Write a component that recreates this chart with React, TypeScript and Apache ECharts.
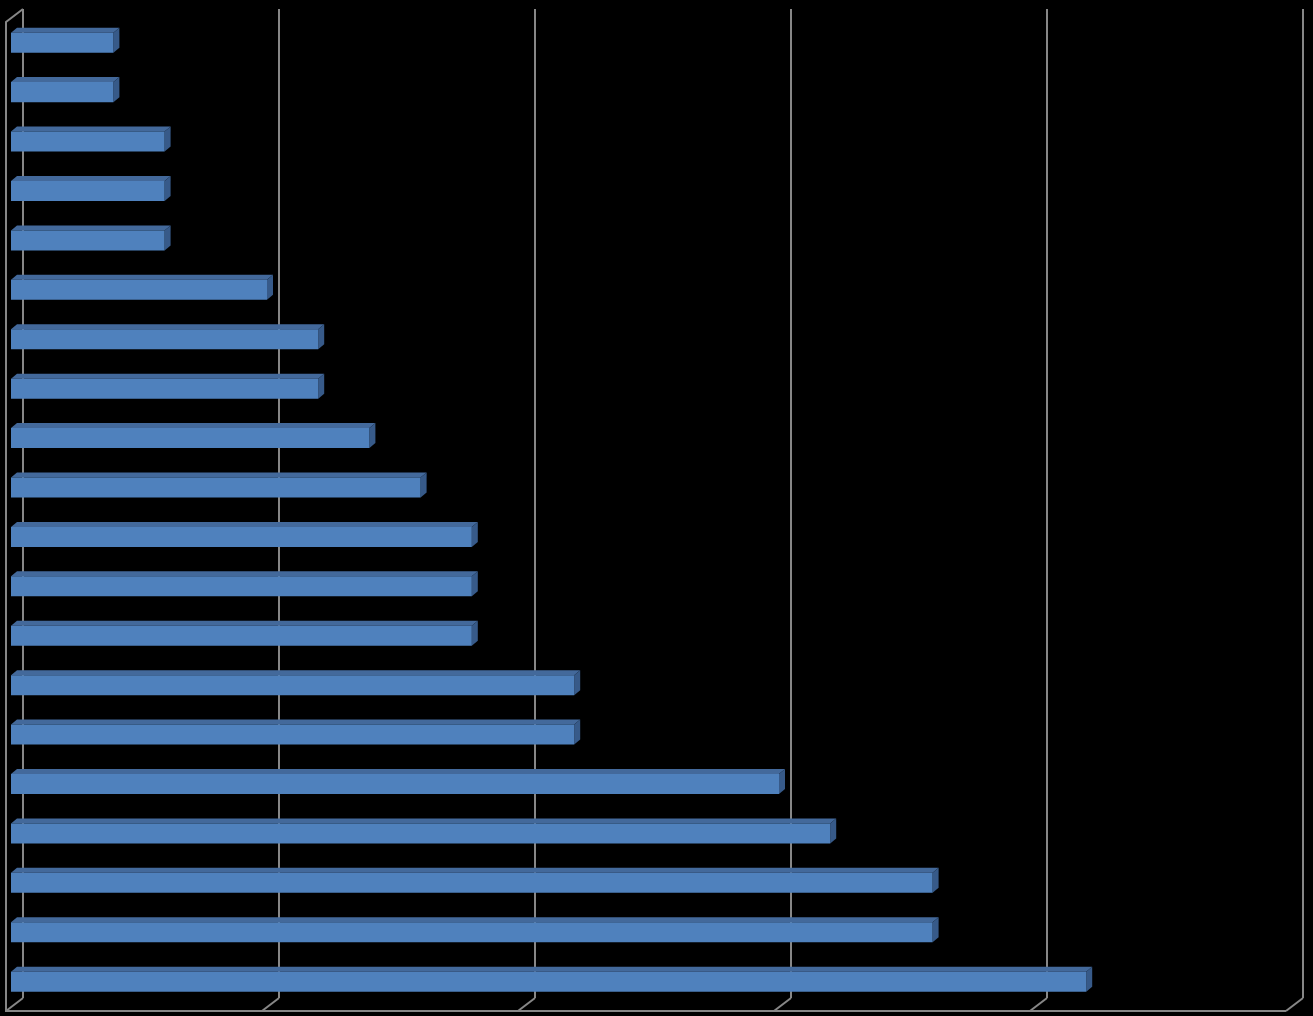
import React, { useEffect, useRef } from "react";
import * as echarts from "echarts";

const categories: string[] = [
  "1", "2", "3", "4", "5", "6", "7", "8", "9", "10",
  "11", "12", "13", "14", "15", "16", "17", "18", "19", "20",
];
const values: number[] = [2, 2, 3, 3, 3, 5, 6, 6, 7, 8, 9, 9, 9, 11, 11, 15, 16, 18, 18, 21];
const axisTicks: number[] = [0, 5, 10, 15, 20, 25];

const FRONT = "#4F81BD";
const TOP = "#43699B";
const SIDE = "#375A89";
const FRAME = "#878787";

export default function App() {
  const ref = useRef<HTMLDivElement>(null);
  useEffect(() => {
    document.body.style.margin = "0";
    document.body.style.background = "#000";
    if (!ref.current) return;
    const chart = echarts.init(ref.current, undefined, { renderer: "svg" });
    const DX = 17, DY = 13; // floor depth offset
    const BDX = 6, BDY = 5; // bar depth offset
    const option: any = {
      animation: false,
      backgroundColor: "#000",
      grid: [
        { left: 11, width: 1280, top: 18, height: 988.4 },
        { left: 23, width: 1280, top: 9, height: 989 },
      ],
      xAxis: [
        { type: "value", gridIndex: 0, min: 0, max: 25, interval: 5, show: false },
        {
          type: "value", gridIndex: 1, min: 0, max: 25, interval: 5,
          axisLine: { show: false }, axisTick: { show: false }, axisLabel: { show: false },
          splitLine: { show: true, lineStyle: { color: FRAME, width: 2 } },
        },
      ],
      yAxis: [
        { type: "category", gridIndex: 0, data: categories, inverse: true, show: false },
        { type: "value", gridIndex: 1, min: 0, max: 1, show: false },
      ],
      series: [
        {
          type: "custom",
          xAxisIndex: 1,
          yAxisIndex: 1,
          z: 1,
          data: axisTicks.map((t) => [t, 0]),
          encode: { x: 0, y: 1 },
          renderItem: (params: any, api: any) => {
            const v = api.value(0);
            const p = api.coord([v, 0]);
            const style = { stroke: FRAME, lineWidth: 2, fill: "none" };
            const children: any[] = [
              { type: "line", shape: { x1: p[0], y1: p[1], x2: p[0] - DX, y2: p[1] + DY }, style },
            ];
            if (params.dataIndex === 0) {
              const top = api.coord([0, 1]);
              const end = api.coord([axisTicks[axisTicks.length - 1], 0]);
              children.push({
                type: "polyline",
                shape: { points: [[top[0], top[1]], [top[0] - DX, top[1] + DY], [p[0] - DX, p[1] + DY], [end[0] - DX, end[1] + DY]] },
                style,
              });
            }
            return { type: "group", children };
          },
        },
        {
          type: "custom",
          xAxisIndex: 0,
          yAxisIndex: 0,
          z: 5,
          data: values.map((v, i) => [v, i]),
          encode: { x: 0, y: 1 },
          renderItem: (params: any, api: any) => {
            const v = api.value(0);
            const c = api.value(1);
            const s = api.coord([0, c]);
            const e = api.coord([v, c]);
            const h = api.size([0, 1])[1] * 0.405;
            const yT = e[1] - h / 2;
            const yB = e[1] + h / 2;
            return {
              type: "group",
              children: [
                {
                  type: "polygon",
                  shape: { points: [[s[0], yT], [e[0], yT], [e[0] + BDX, yT - BDY], [s[0] + BDX, yT - BDY]] },
                  style: { fill: TOP },
                },
                {
                  type: "polygon",
                  shape: { points: [[e[0], yT], [e[0] + BDX, yT - BDY], [e[0] + BDX, yB - BDY], [e[0], yB]] },
                  style: { fill: SIDE },
                },
                {
                  type: "rect",
                  shape: { x: s[0], y: yT, width: e[0] - s[0], height: h },
                  style: { fill: FRONT },
                },
              ],
            };
          },
        },
      ],
    };
    chart.setOption(option);
    return () => chart.dispose();
  }, []);
  return <div ref={ref} style={{ width: 1313, height: 1016, background: "#000" }} />;
}
